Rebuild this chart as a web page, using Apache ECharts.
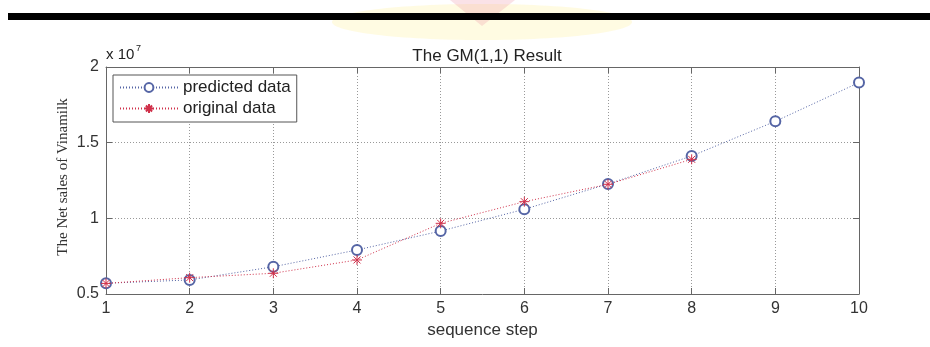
<!DOCTYPE html>
<html>
<head>
<meta charset="utf-8">
<script src="https://cdn.jsdelivr.net/npm/echarts@6/dist/echarts.min.js"></script>
<style>
html,body{margin:0;padding:0;background:#fff;}
#chart{width:930px;height:347px;}
</style>
</head>
<body>
<div id="chart"></div>
<script>
// Data
var steps = [1, 2, 3, 4, 5, 6, 7, 8, 9, 10];
var predicted = [5.71e6, 5.93e6, 6.80e6, 7.91e6, 9.16e6, 10.60e6, 12.27e6, 14.12e6, 16.41e6, 18.97e6];
var originalSteps = [1, 2, 3, 4, 5, 6, 7, 8];
var original = [5.70e6, 6.08e6, 6.37e6, 7.25e6, 9.67e6, 11.10e6, 12.25e6, 13.90e6];
var yTicks = [0.5e7, 1e7, 1.5e7, 2e7];
var titleText = 'The GM(1,1) Result';
var xName = 'sequence step';
var yName = 'The Net sales of Vinamilk';
var legendNames = ['predicted data', 'original data'];

var chart = echarts.init(document.getElementById('chart'));
var gl = 106, gt = 67, gr = 859, gb = 294;
var starPath = 'path://M5,0 L5,10 M0,5 L10,5 M1.5,1.5 L8.5,8.5 M8.5,1.5 L1.5,8.5';
var blue = '#5565a5', red = '#d0304a';
var tickFont = {fontFamily: 'Liberation Sans, Arial', fontSize: 16, color: '#333'};

function zip(xs, ys) { return xs.map(function (x, i) { return [x, ys[i]]; }); }

var axisCommon = {
  axisLine: {lineStyle: {color: '#666', width: 1}},
  axisTick: {inside: true, length: 6, lineStyle: {color: '#666'}}
};

chart.setOption({
  animation: false,
  backgroundColor: '#fff',
  grid: {left: gl, top: gt, width: gr - gl, height: gb - gt, show: false},
  title: {
    text: titleText, left: 482, top: 43, textAlign: 'center',
    textStyle: {fontFamily: 'Liberation Sans, Arial', fontSize: 17, fontWeight: 'normal', color: '#222'}
  },
  xAxis: [{
    type: 'value', min: 1, max: 10, interval: 1, position: 'bottom',
    axisLine: axisCommon.axisLine, axisTick: axisCommon.axisTick,
    axisLabel: Object.assign({margin: 7}, tickFont),
    splitLine: {show: true, lineStyle: {color: '#999', type: [1, 2], width: 1}},
    name: xName, nameLocation: 'middle', nameGap: 28,
    nameTextStyle: {fontFamily: 'Liberation Sans, Arial', fontSize: 17, color: '#333'}
  }, {
    type: 'value', min: 1, max: 10, interval: 1, position: 'top',
    axisLine: axisCommon.axisLine, axisTick: axisCommon.axisTick,
    axisLabel: {show: false}, splitLine: {show: false}
  }],
  yAxis: [{
    type: 'value', min: 0.5e7, max: 2e7, interval: 0.5e7, position: 'left',
    axisLine: axisCommon.axisLine, axisTick: axisCommon.axisTick,
    axisLabel: Object.assign({margin: 7, formatter: function (v) { return String(+(v / 1e7).toFixed(1)); }}, tickFont),
    splitLine: {show: true, lineStyle: {color: '#999', type: [1, 2], width: 1}}
  }, {
    type: 'value', min: 0.5e7, max: 2e7, interval: 0.5e7, position: 'right',
    axisLine: axisCommon.axisLine, axisTick: axisCommon.axisTick,
    axisLabel: {show: false}, splitLine: {show: false}
  }],
  legend: {
    left: 113, top: 75, orient: 'vertical', itemGap: 4, itemWidth: 58, itemHeight: 11,
    padding: [4, 6, 5, 6],
    borderColor: '#555', borderWidth: 1, backgroundColor: '#fff',
    textStyle: {fontFamily: 'Liberation Sans, Arial', fontSize: 17, color: '#222'},
    data: legendNames
  },
  series: [{
    name: legendNames[0], type: 'line', data: zip(steps, predicted),
    symbol: 'emptyCircle', symbolSize: 10,
    lineStyle: {color: blue, width: 1, type: [1, 2]},
    itemStyle: {color: blue, borderColor: blue, borderWidth: 1},
    z: 3
  }, {
    name: legendNames[1], type: 'line', data: zip(originalSteps, original),
    symbol: starPath, symbolSize: 10,
    lineStyle: {color: red, width: 1, type: [1, 2]},
    itemStyle: {color: red, borderColor: red, borderWidth: 1},
    z: 4
  }],
  graphic: [
    {type: 'ellipse', shape: {cx: 482, cy: 22, rx: 150, ry: 18}, style: {fill: 'rgba(255,240,140,0.25)'}, z: -2},
    {type: 'polygon', shape: {points: [[450, 0], [515, 0], [482, 26]]}, style: {fill: 'rgba(235,140,160,0.25)'}, z: -1},
    {type: 'rect', shape: {x: 8, y: 13, width: 922, height: 7}, style: {fill: '#000'}, z: 10},
    {type: 'text', left: 106, top: 47, style: {text: 'x 10', font: '15px "Liberation Sans", Arial', fill: '#222'}},
    {type: 'text', left: 136, top: 44, style: {text: '7', font: '9px "Liberation Sans", Arial', fill: '#222'}},
    {type: 'text', x: 63, y: 177, rotation: Math.PI / 2,
      style: {text: yName, font: '15px "Liberation Serif", "Times New Roman", serif', fill: '#333', textAlign: 'center', textVerticalAlign: 'middle'}}
  ]
});
</script>
</body>
</html>
